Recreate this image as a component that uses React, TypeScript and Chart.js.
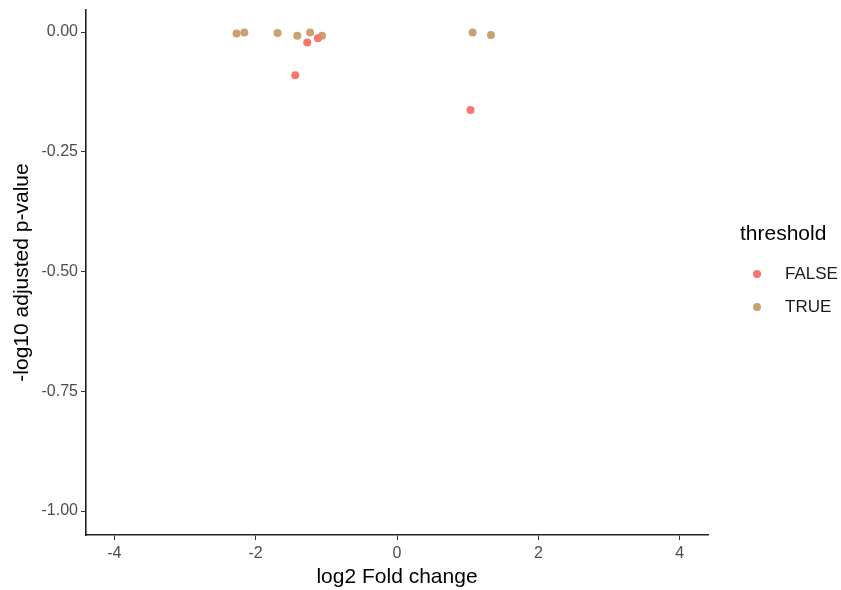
import React, { useEffect, useRef } from "react";
import { Chart, registerables } from "chart.js";

Chart.register(...registerables);

const seriesNames = ["FALSE", "TRUE"];
const seriesColors = ["#F8766D", "#C9A26F"];

const falseX = [-1.27, -1.12, -1.44, 1.04];
const falseY = [-0.022, -0.013, -0.090, -0.163];

const trueX = [-2.27, -2.16, -1.69, -1.41, -1.23, -1.06, 1.07, 1.33];
const trueY = [-0.003, -0.001, -0.002, -0.008, -0.001, -0.008, -0.001, -0.006];

const xTicks = [-4, -2, 0, 2, 4];
const yTicks = [0, -0.25, -0.5, -0.75, -1];

const legendTitle = "threshold";
const xTitle = "log2 Fold change";
const yTitle = "-log10 adjusted p-value";

const FONT = "'Liberation Sans', Arial, sans-serif";

const legendPlugin = {
  id: "ggLegend",
  afterDraw(chart: any) {
    const ctx = chart.ctx;
    ctx.save();
    ctx.fillStyle = "#000";
    ctx.font = `21px ${FONT}`;
    ctx.textBaseline = "middle";
    ctx.textAlign = "left";
    ctx.fillText(legendTitle, 740, 234);
    const ys = [274, 307];
    seriesNames.forEach((name, i) => {
      ctx.beginPath();
      ctx.fillStyle = seriesColors[i];
      ctx.arc(757, ys[i], 4, 0, Math.PI * 2);
      ctx.fill();
      ctx.fillStyle = "#1a1a1a";
      ctx.font = `17px ${FONT}`;
      ctx.fillText(name, 785, ys[i]);
    });
    ctx.restore();
  },
};

export default function App() {
  const ref = useRef<HTMLCanvasElement | null>(null);
  useEffect(() => {
    if (!ref.current) return;
    const toPts = (xs: number[], ys: number[]) => xs.map((x, i) => ({ x, y: ys[i] }));
    const chart = new Chart(ref.current, {
      type: "scatter",
      data: {
        datasets: [
          {
            label: seriesNames[0],
            data: toPts(falseX, falseY),
            backgroundColor: seriesColors[0],
            borderWidth: 0,
            pointRadius: 4,
          },
          {
            label: seriesNames[1],
            data: toPts(trueX, trueY),
            backgroundColor: seriesColors[1],
            borderWidth: 0,
            pointRadius: 4,
          },
        ],
      },
      options: {
        animation: false,
        responsive: false,
        maintainAspectRatio: false,
        layout: { padding: { left: 0, top: 10, right: 133, bottom: 0 } },
        plugins: { legend: { display: false }, tooltip: { enabled: false } },
        scales: {
          x: {
            type: "linear",
            min: -4.4,
            max: 4.4,
            afterBuildTicks: (s: any) => {
              s.ticks = xTicks.map((v) => ({ value: v }));
            },
            afterFit: (s: any) => {
              s.height = 55;
              s.paddingLeft = 0;
              s.paddingRight = 0;
            },
            border: { display: true, color: "#222", width: 1.6 },
            grid: { drawOnChartArea: false, drawTicks: true, tickLength: 5, color: "#333", lineWidth: 1 },
            ticks: {
              color: "#4d4d4d",
              font: { size: 16, family: FONT },
              padding: 4,
              callback: (v: any) => String(v),
            },
            title: {
              display: true,
              text: xTitle,
              color: "#000",
              font: { size: 21, family: FONT },
              padding: { top: 2, bottom: 0 },
            },
          },
          y: {
            type: "linear",
            min: -1.05,
            max: 0.046,
            afterBuildTicks: (s: any) => {
              s.ticks = yTicks.map((v) => ({ value: v }));
            },
            afterFit: (s: any) => {
              s.width = 86;
              s.paddingTop = 0;
              s.paddingBottom = 0;
            },
            border: { display: true, color: "#222", width: 1.6 },
            grid: { drawOnChartArea: false, drawTicks: true, tickLength: 5, color: "#333", lineWidth: 1 },
            ticks: {
              color: "#4d4d4d",
              font: { size: 16, family: FONT },
              padding: 3,
              callback: (v: any) => Number(v).toFixed(2),
            },
            title: {
              display: true,
              text: yTitle,
              color: "#000",
              font: { size: 21, family: FONT },
              padding: { top: 10, bottom: 4 },
            },
          },
        },
      },
      plugins: [legendPlugin],
    });
    return () => chart.destroy();
  }, []);
  return (
    <div style={{ position: "fixed", left: 0, top: 0, width: 841, height: 590, background: "#fff" }}>
      <canvas ref={ref} width={841} height={590} style={{ width: 841, height: 590 }} />
    </div>
  );
}
